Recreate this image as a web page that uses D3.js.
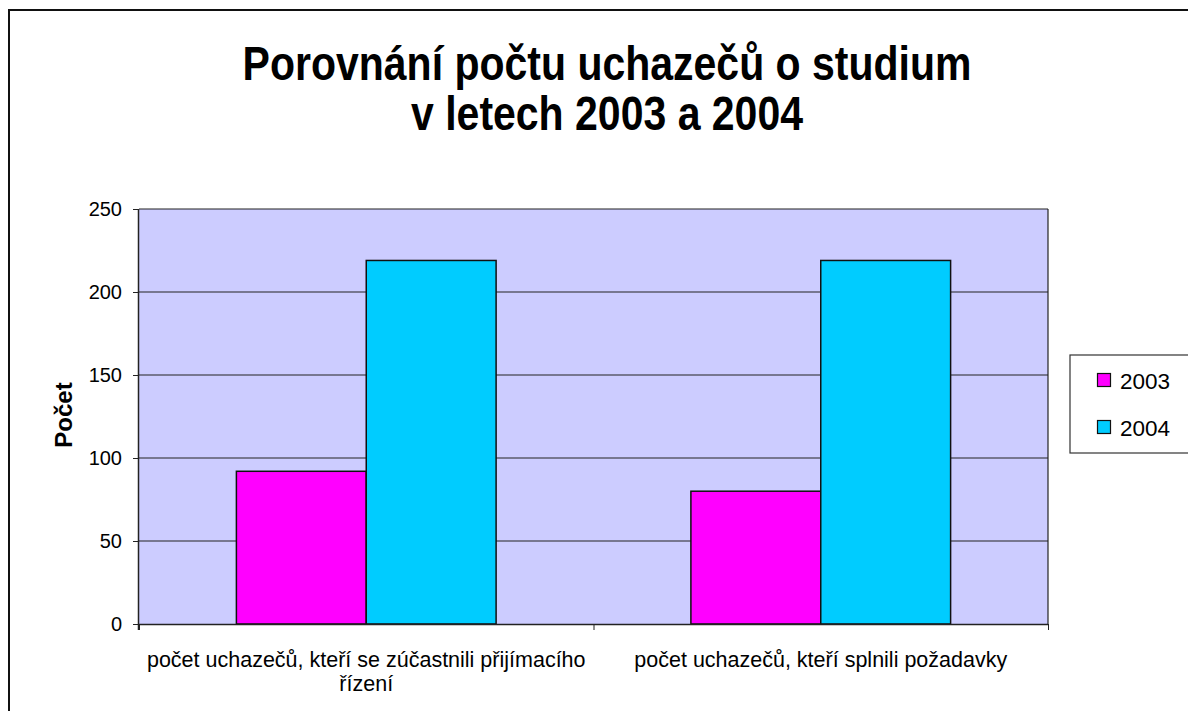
<!DOCTYPE html>
<html><head><meta charset="utf-8">
<script src="https://cdn.jsdelivr.net/npm/d3@7"></script>
<style>body{margin:0;background:#fff;}svg{display:block;font-family:Arial,"Liberation Sans",sans-serif;}</style>
</head><body>
<svg id="c" width="1188" height="711"></svg>
<script>
const categories = [["počet uchazečů, kteří se zúčastnili přijímacího","řízení"],["počet uchazečů, kteří splnili požadavky"]];
const seriesNames = ["2003","2004"];
const values2003 = [92, 80];
const values2004 = [219, 219];
const yTicks = [0,50,100,150,200,250];
const colors = ["#FF00FF","#00CCFF"];

const svg = d3.select("#c");
svg.append("rect").attr("x",9).attr("y",10).attr("width",1200).attr("height",720)
  .attr("fill","#fff").attr("stroke","#111").attr("stroke-width",2);

const L=139,T=209,R=1048,B=624;
const y = d3.scaleLinear().domain([0,250]).range([B,T]);
const x0 = d3.scaleBand().domain(d3.range(categories.length)).range([L,R]).paddingInner(0).paddingOuter(0);
const bw = x0.bandwidth()/3.5;

svg.append("rect").attr("x",L).attr("y",T).attr("width",R-L).attr("height",B-T).attr("fill","#CCCCFF");

svg.append("g").selectAll("line").data(yTicks.filter(d=>d>0)).join("line")
  .attr("x1",L).attr("x2",R).attr("y1",d=>y(d)).attr("y2",d=>y(d))
  .attr("stroke","#222").attr("stroke-width",1.2);
svg.append("line").attr("x1",R).attr("x2",R).attr("y1",T).attr("y2",B).attr("stroke","#222").attr("stroke-width",1.2);

const data = [values2003, values2004];
data.forEach((vals,si)=>{
  svg.append("g").selectAll("rect").data(vals).join("rect")
    .attr("x",(d,i)=>x0(i)+x0.bandwidth()/2 - bw + si*bw)
    .attr("y",d=>y(d)).attr("width",bw).attr("height",d=>B-y(d))
    .attr("fill",colors[si]).attr("stroke","#111").attr("stroke-width",1.5);
});

const ya = svg.append("g").attr("transform",`translate(${L},0)`)
  .call(d3.axisLeft(y).tickValues(yTicks).tickSize(6).tickPadding(11).tickFormat(d3.format("d")));
ya.select(".domain").attr("stroke","#222").attr("stroke-width",1.5).attr("d",`M-0.5,${T}V${B+6}`);
ya.selectAll(".tick line").attr("stroke","#222");
ya.selectAll("text").attr("font-size",20).attr("fill","#000").attr("font-family","Arial,'Liberation Sans',sans-serif");

const xa = svg.append("g").attr("transform",`translate(0,${B})`)
  .call(d3.axisBottom(d3.scaleLinear().domain([0,categories.length]).range([L,R])).tickValues(d3.range(categories.length+1)).tickSize(6).tickFormat(""));
xa.select(".domain").attr("stroke","#222").attr("stroke-width",1.5).attr("d",`M${L},0.5H${R}`);
xa.selectAll(".tick line").attr("stroke","#222");

categories.forEach((lines,i)=>{
  const t = svg.append("text").attr("x",x0(i)+x0.bandwidth()/2).attr("y",667)
    .attr("text-anchor","middle").attr("font-size",21.5).attr("fill","#000");
  lines.forEach((ln,j)=>t.append("tspan").attr("x",x0(i)+x0.bandwidth()/2).attr("dy",j?24:0).text(ln));
});

svg.append("text").attr("transform","translate(72,415) rotate(-90)").attr("text-anchor","middle")
  .attr("font-size",24).attr("font-weight","bold").text("Počet");

const titleLines = ["Porovnání počtu uchazečů o studium","v letech 2003 a 2004"];
titleLines.forEach((ln,i)=>{
  svg.append("text").attr("transform",`translate(607,${80+i*50}) scale(1,1.15)`)
    .attr("text-anchor","middle").attr("font-weight","bold").attr("font-size",41).attr("fill","#000").text(ln);
});

const lg = svg.append("g");
lg.append("rect").attr("x",1070).attr("y",355).attr("width",130).attr("height",98).attr("fill","#fff").attr("stroke","#333").attr("stroke-width",1.2);
seriesNames.forEach((s,i)=>{
  lg.append("rect").attr("x",1097.5).attr("y",373.5+i*47).attr("width",13).attr("height",13).attr("fill",colors[i]).attr("stroke","#111").attr("stroke-width",1.2);
  lg.append("text").attr("x",1120).attr("y",389+i*47).attr("font-size",22.5).text(s);
});
</script>
</body></html>
